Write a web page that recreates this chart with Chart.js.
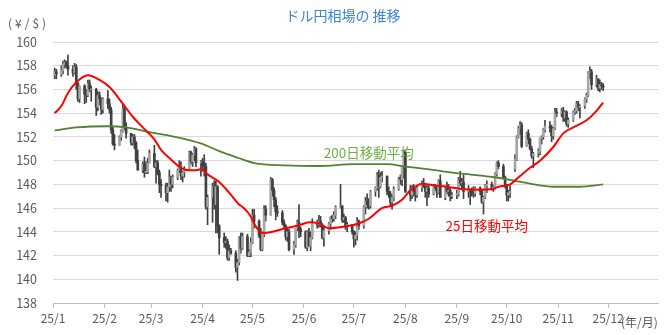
<!DOCTYPE html>
<html lang="ja">
<head>
<meta charset="utf-8">
<title>ドル円相場の推移</title>
<script src="https://cdn.jsdelivr.net/npm/chart.js@4.4.1/dist/chart.umd.min.js"></script>
<style>
  html, body { margin: 0; padding: 0; background: #fff; }
  #wrap { width: 670px; height: 335px; }
</style>
</head>
<body>
<div id="wrap"><canvas id="fxChart" width="670" height="335"></canvas></div>
<script>
/* ================= DATA (USD/JPY daily, 2025) ================= */

const titleText = "ドル円相場の 推移";
const monthLabels = ["25/1","25/2","25/3","25/4","25/5","25/6","25/7","25/8","25/9","25/10","25/11","25/12"];
const yTicks = [138,140,142,144,146,148,150,152,154,156,158,160];

const dates = [
  "1/2","1/3","1/6","1/7","1/8","1/9","1/10","1/13","1/14","1/15","1/16","1/17","1/20","1/21","1/22","1/23","1/24","1/27","1/28","1/29","1/30","1/31",
  "2/3","2/4","2/5","2/6","2/7","2/10","2/11","2/12","2/13","2/14","2/17","2/18","2/19","2/20","2/21","2/24","2/25","2/26","2/27","2/28",
  "3/3","3/4","3/5","3/6","3/7","3/10","3/11","3/12","3/13","3/14","3/17","3/18","3/19","3/20","3/21","3/24","3/25","3/26","3/27","3/28","3/31",
  "4/1","4/2","4/3","4/4","4/7","4/8","4/9","4/10","4/11","4/14","4/15","4/16","4/17","4/18","4/21","4/22","4/23","4/24","4/25","4/28","4/29","4/30",
  "5/1","5/2","5/5","5/6","5/7","5/8","5/9","5/12","5/13","5/14","5/15","5/16","5/19","5/20","5/21","5/22","5/23","5/26","5/27","5/28","5/29","5/30",
  "6/2","6/3","6/4","6/5","6/6","6/9","6/10","6/11","6/12","6/13","6/16","6/17","6/18","6/19","6/20","6/23","6/24","6/25","6/26","6/27","6/30",
  "7/1","7/2","7/3","7/4","7/7","7/8","7/9","7/10","7/11","7/14","7/15","7/16","7/17","7/18","7/21","7/22","7/23","7/24","7/25","7/28","7/29","7/30","7/31",
  "8/1","8/4","8/5","8/6","8/7","8/8","8/11","8/12","8/13","8/14","8/15","8/18","8/19","8/20","8/21","8/22","8/25","8/26","8/27","8/28","8/29",
  "9/1","9/2","9/3","9/4","9/5","9/8","9/9","9/10","9/11","9/12","9/15","9/16","9/17","9/18","9/19","9/22","9/23","9/24","9/25","9/26","9/29","9/30",
  "10/1","10/2","10/3","10/6","10/7","10/8","10/9","10/10","10/13","10/14","10/15","10/16","10/17","10/20","10/21","10/22","10/23","10/24","10/27","10/28","10/29","10/30","10/31",
  "11/3","11/4","11/5","11/6","11/7","11/10","11/11","11/12","11/13","11/14","11/17","11/18","11/19","11/20","11/21","11/24","11/25","11/26","11/27","11/28"
];

const opens = [
  157.2,157.5,157.3,157.6,158.1,158.3,158.0,157.7,157.4,157.9,156.5,155.2,156.3,155.6,155.5,156.5,156.0,156.0,154.5,155.5,155.2,154.3,
  155.2,154.8,154.3,152.6,151.4,151.3,152.0,152.5,154.4,152.8,152.3,151.5,152.0,151.5,150.0,149.2,149.7,149.0,149.1,149.8,
  150.6,149.5,149.8,149.0,148.0,147.9,147.3,147.8,148.6,148.0,148.6,149.2,149.3,148.7,149.0,149.3,150.7,149.9,150.5,151.0,149.8,
  149.9,149.6,149.5,146.1,146.9,147.8,146.3,147.8,144.5,143.5,143.1,143.2,141.8,142.4,142.2,141.0,141.4,143.5,142.6,143.6,142.0,142.3,
  143.1,145.4,144.9,143.7,142.5,143.8,145.9,145.4,148.4,147.5,146.7,145.7,145.6,144.8,144.5,143.6,144.0,142.5,142.9,144.3,144.8,144.2,
  144.0,142.7,144.0,142.8,143.5,144.8,144.6,144.9,144.6,143.5,144.1,144.7,145.3,145.1,145.4,146.1,146.2,145.0,145.2,144.4,144.6,
  144.0,143.4,143.7,144.9,144.5,146.1,146.6,146.3,146.2,147.4,147.7,148.8,147.8,148.6,148.7,147.4,147.2,146.5,146.9,147.6,148.5,148.4,149.5,
  150.7,147.4,147.1,147.7,147.4,147.1,147.7,148.1,147.8,147.4,147.7,147.2,147.8,147.7,147.3,148.3,146.9,147.7,147.4,147.5,147.0,
  147.1,147.2,148.4,148.1,148.2,147.4,147.5,147.4,147.3,147.2,147.7,147.4,146.5,146.9,147.9,148.0,147.7,147.8,148.9,149.8,149.5,148.6,
  147.9,147.1,147.3,149.3,150.1,152.0,152.7,153.0,151.2,152.3,151.8,151.0,150.4,150.6,150.8,151.9,152.0,152.6,152.9,152.8,152.1,152.7,154.1,
  154.0,154.2,153.6,154.1,153.1,153.4,154.1,154.2,154.8,154.5,154.6,155.2,155.5,157.4,157.5,156.4,156.9,156.1,156.4,156.3
];

const highs = [
  157.8,157.7,158.0,158.4,158.5,158.4,158.9,158.0,158.2,158.1,156.6,156.3,156.4,156.0,156.8,156.8,156.3,156.1,155.8,155.8,155.3,155.3,
  155.9,155.2,154.5,152.8,152.2,152.1,152.6,154.8,154.5,153.2,152.3,152.2,152.2,151.6,150.9,149.9,150.3,149.9,150.2,150.9,
  151.3,150.0,150.0,149.2,148.4,148.1,148.1,149.2,148.7,148.8,149.3,150.0,149.9,149.1,149.5,150.8,150.8,150.6,151.2,151.1,150.0,
  150.2,150.5,149.8,147.1,148.1,148.3,148.3,147.9,144.6,143.9,143.6,143.4,142.9,142.6,142.4,141.7,143.6,143.9,143.9,143.8,142.5,143.5,
  145.9,145.9,145.0,144.3,144.0,146.2,146.2,148.6,148.5,147.7,146.9,146.2,145.8,145.0,144.6,144.4,144.2,143.2,144.3,145.0,146.3,144.4,
  144.1,144.1,144.3,144.0,145.1,145.0,145.4,145.3,144.7,144.5,144.8,145.3,145.4,145.7,146.2,148.0,146.2,145.5,145.3,144.8,144.6,
  144.1,144.0,145.2,145.0,146.2,146.9,147.2,146.8,147.5,147.8,149.0,149.2,149.0,149.1,148.7,147.8,147.4,147.1,147.8,148.6,148.8,149.5,150.9,
  150.9,147.9,147.9,148.0,147.7,147.9,148.3,148.5,147.9,147.9,147.9,148.0,148.0,147.9,148.4,148.8,147.8,148.2,148.0,147.7,147.3,
  147.5,148.6,149.1,148.5,148.8,147.9,147.6,147.7,147.8,147.8,147.8,147.5,147.0,148.0,148.3,148.2,147.9,149.0,149.9,150.0,149.7,148.7,
  148.0,147.5,147.9,150.5,152.1,152.9,153.3,153.2,152.4,152.6,151.9,151.2,150.7,151.0,151.9,152.1,152.7,153.4,153.3,153.0,152.8,154.4,154.4,
  154.4,154.5,154.2,154.2,153.6,154.2,154.4,155.0,155.0,154.7,155.3,155.7,157.5,157.9,157.7,157.2,156.9,156.8,156.6,156.5
];

const lows = [
  156.9,156.9,157.1,157.3,157.8,157.8,157.2,157.1,157.3,156.0,155.0,154.9,154.8,154.9,155.4,155.8,155.0,153.8,154.2,154.7,153.9,154.0,
  154.4,154.0,152.3,151.3,150.9,151.3,151.7,152.4,152.6,151.9,151.3,151.3,151.0,149.8,149.2,149.0,148.6,148.9,148.9,149.8,
  149.4,148.1,148.8,147.3,146.9,146.6,146.5,147.4,147.4,147.7,148.4,149.0,148.4,148.2,148.6,149.2,149.7,149.5,150.0,149.5,148.7,
  149.1,148.7,145.9,144.6,144.8,145.9,143.9,143.9,142.1,142.7,142.6,141.6,141.6,142.1,140.6,139.9,141.2,142.2,142.5,141.9,141.9,141.9,
  143.0,144.3,143.5,142.4,142.4,143.6,144.9,145.4,147.0,146.1,145.0,145.3,144.6,144.3,143.3,143.2,142.4,142.1,142.7,144.1,143.5,143.6,
  142.6,142.4,142.8,142.4,143.4,144.3,144.4,144.4,143.4,142.8,143.8,144.2,144.8,144.9,145.1,146.0,144.8,144.8,144.2,144.0,143.8,
  142.7,142.9,143.3,144.2,144.3,145.5,146.0,145.9,146.0,147.0,147.5,146.9,147.7,148.2,147.1,146.9,146.2,145.9,146.6,147.5,148.0,147.9,148.5,
  147.3,146.6,146.8,147.0,146.6,146.9,147.4,147.7,146.9,146.2,146.9,147.1,147.5,146.9,147.2,146.9,146.7,147.2,147.0,146.6,146.8,
  146.8,147.0,147.9,147.6,146.8,146.9,146.3,147.0,146.9,147.0,147.1,146.4,145.5,146.8,147.3,147.5,147.4,147.6,148.7,149.3,148.5,147.7,
  146.6,146.6,146.9,149.1,150.0,151.9,152.2,151.1,151.2,151.4,150.9,150.2,149.4,150.3,150.5,151.4,151.8,152.4,152.4,151.6,151.8,152.6,153.7,
  153.7,153.3,153.3,152.9,152.8,153.3,153.9,154.0,154.2,153.6,154.4,154.9,155.4,156.9,156.0,156.2,155.9,155.8,156.0,155.9
];

const closes = [
  157.5,157.3,157.6,158.1,158.3,158.0,157.7,157.4,157.9,156.5,155.2,156.3,155.6,155.5,156.5,156.0,156.0,154.5,155.5,155.2,154.3,155.2,
  154.8,154.3,152.6,151.4,151.3,152.0,152.5,154.4,152.8,152.3,151.5,152.0,151.5,150.0,149.2,149.7,149.0,149.1,149.8,150.6,
  149.5,149.8,149.0,148.0,147.9,147.3,147.8,148.6,148.0,148.6,149.2,149.3,148.7,149.0,149.3,150.7,149.9,150.5,151.0,149.8,149.9,
  149.6,149.5,146.1,146.9,147.8,146.3,147.8,144.5,143.5,143.1,143.2,141.8,142.4,142.2,141.0,141.4,143.5,142.6,143.6,142.0,142.3,143.1,
  145.4,144.9,143.7,142.5,143.8,145.9,145.4,148.4,147.5,146.7,145.7,145.6,144.8,144.5,143.6,144.0,142.5,142.9,144.3,144.8,144.2,144.0,
  142.7,144.0,142.8,143.5,144.8,144.6,144.9,144.6,143.5,144.1,144.7,145.3,145.1,145.4,146.1,146.2,145.0,145.2,144.4,144.6,144.0,
  143.4,143.7,144.9,144.5,146.1,146.6,146.3,146.2,147.4,147.7,148.8,147.8,148.6,148.7,147.4,147.2,146.5,146.9,147.6,148.5,148.4,149.5,150.7,
  147.4,147.1,147.7,147.4,147.1,147.7,148.1,147.8,147.4,147.7,147.2,147.8,147.7,147.3,148.3,146.9,147.7,147.4,147.5,147.0,147.1,
  147.2,148.4,148.1,148.2,147.4,147.5,147.4,147.3,147.2,147.7,147.4,146.5,146.9,147.9,148.0,147.7,147.8,148.9,149.8,149.5,148.6,147.9,
  147.1,147.3,147.4,150.1,152.0,152.7,153.0,151.2,152.3,151.8,151.0,150.4,150.6,150.8,151.9,152.0,152.6,152.9,152.8,152.1,152.7,154.1,154.0,
  154.2,153.6,154.1,153.1,153.4,154.1,154.2,154.8,154.5,154.6,155.2,155.5,157.4,157.5,156.4,156.9,156.1,156.4,156.3,156.2
];

// 25日移動平均
const ma25Dates = ["1/2","1/6","1/10","1/15","1/22","1/29","2/4","2/12","2/18","2/24","3/3","3/7","3/13","3/19","3/24","3/28","4/1","4/3","4/11","4/17","4/23","4/25","4/30","5/2","5/6","5/8","5/13","5/21","5/29","6/4","6/10","6/16","6/23","6/30","7/4","7/10","7/18","7/24","7/30","8/4","8/7","8/11","8/19","8/26","9/4","9/15","9/22","9/26","10/3","10/9","10/15","10/21","10/29","11/4","11/10","11/18","11/24","11/28"];
const ma25Values = [154.0,154.6,155.7,156.6,157.2,156.8,156.2,154.8,153.7,152.8,151.8,150.9,150.1,149.4,149.2,149.2,149.3,148.95,148.2,147.3,146.3,146.1,145.3,144.7,143.95,143.9,144.0,144.3,144.55,144.8,144.7,144.3,144.4,144.55,144.7,145.1,146.0,146.2,146.7,147.5,147.8,148.05,147.9,147.8,147.6,147.55,147.6,147.8,148.0,148.7,149.4,150.0,151.15,152.3,152.8,153.4,154.2,154.9];

// 200日移動平均
const ma200Dates = ["1/2","1/15","2/3","2/14","2/28","3/14","3/31","4/11","4/17","4/23","5/2","5/21","6/10","7/1","7/21","8/1","8/13","8/21","9/4","9/24","10/6","10/15","10/29","11/14","11/28"];
const ma200Values = [152.55,152.8,152.9,152.8,152.4,152.05,151.45,150.8,150.5,150.2,149.8,149.6,149.55,149.7,149.7,149.5,149.3,149.15,148.9,148.6,148.3,148.06,147.8,147.8,148.0];

/* ================= HELPERS ================= */

function dayOfYear(md) {
  const [m, d] = md.split("/").map(Number);
  return (Date.UTC(2025, m - 1, d) - Date.UTC(2025, 0, 1)) / 86400000;
}

const monthStarts = monthLabels.map((_, i) => dayOfYear((i + 1) + "/1"));

const wickData = dates.map((d, i) => ({ x: dayOfYear(d), y: [lows[i], highs[i]] }));
const bodyData = dates.map((d, i) => {
  let lo = Math.min(opens[i], closes[i]);
  let hi = Math.max(opens[i], closes[i]);
  if (hi - lo < 0.06) { lo -= 0.03; hi += 0.03; }
  return { x: dayOfYear(d), y: [lo, hi] };
});
const bodyColors = dates.map((d, i) => closes[i] >= opens[i] ? "#a6a6a6" : "#3f3f3f");

const ma25Data = ma25Dates.map((d, i) => ({ x: dayOfYear(d), y: ma25Values[i] }));
const ma200Data = ma200Dates.map((d, i) => ({ x: dayOfYear(d), y: ma200Values[i] }));

const JP = '"Noto Sans CJK JP", "Noto Sans", sans-serif';

/* ================= TEXT OVERLAY ================= */

const textPlugin = {
  id: "texts",
  afterDraw(chart) {
    const { ctx } = chart;
    const x = chart.scales.x, y = chart.scales.y;
    ctx.save();
    ctx.textBaseline = "middle";

    ctx.textAlign = "center";
    ctx.fillStyle = "#3b86d4";
    ctx.font = "14px " + JP;
    ctx.fillText(titleText, 343, 16);

    ctx.fillStyle = "#595959";
    ctx.font = "12px " + JP;
    ctx.textAlign = "left";
    ctx.letterSpacing = "3px";
    ctx.fillText("(¥/$)", 8, 23);
    ctx.letterSpacing = "0px";
    ctx.fillText("(年/月)", 621, 322);

    ctx.textAlign = "center";
    ctx.font = "13.5px " + JP;
    ctx.fillStyle = "#70ad47";
    ctx.fillText("200日移動平均", x.getPixelForValue(dayOfYear("7/10")), y.getPixelForValue(150.66));
    ctx.fillStyle = "#ff0000";
    ctx.fillText("25日移動平均", x.getPixelForValue(dayOfYear("9/19")), y.getPixelForValue(144.47));
    ctx.restore();
  }
};

/* ================= CHART ================= */

new Chart(document.getElementById("fxChart"), {
  type: "bar",
  data: {
    datasets: [
      {
        type: "line",
        label: "25日移動平均",
        data: ma25Data,
        borderColor: "#ff0000",
        borderWidth: 2,
        pointRadius: 0,
        cubicInterpolationMode: "monotone",
        order: 0
      },
      {
        type: "line",
        label: "200日移動平均",
        data: ma200Data,
        borderColor: "#548235",
        borderWidth: 1.8,
        pointRadius: 0,
        cubicInterpolationMode: "monotone",
        order: 1
      },
      {
        label: "実体",
        data: bodyData,
        backgroundColor: bodyColors,
        barThickness: 2,
        grouped: false,
        order: 2
      },
      {
        label: "ヒゲ",
        data: wickData,
        backgroundColor: "#404040",
        barThickness: 1,
        grouped: false,
        order: 3
      }
    ]
  },
  options: {
    responsive: false,
    devicePixelRatio: 1,
    animation: false,
    layout: { padding: { top: 42, right: 12, left: 0, bottom: 0 } },
    plugins: {
      legend: { display: false },
      title: { display: false },
      tooltip: { enabled: false }
    },
    scales: {
      x: {
        type: "linear",
        min: 0,
        max: 364,
        offset: false,
        afterBuildTicks: s => { s.ticks = monthStarts.map(v => ({ value: v })); },
        afterFit: s => { s.height = 32; },
        ticks: {
          autoSkip: false,
          maxRotation: 0,
          padding: 3,
          color: "#595959",
          font: { family: JP, size: 12 },
          callback: (v, i) => monthLabels[i]
        },
        grid: { offset: false, drawOnChartArea: false, drawTicks: true, tickLength: 5, color: "#bfbfbf" },
        border: { color: "#bfbfbf" }
      },
      y: {
        min: 138,
        max: 160,
        afterBuildTicks: s => { s.ticks = yTicks.map(v => ({ value: v })); },
        afterFit: s => { s.width = 53; },
        ticks: {
          padding: 16,
          color: "#595959",
          font: { family: JP, size: 12.5 }
        },
        grid: { color: "#d9d9d9", drawTicks: false },
        border: { display: false }
      }
    }
  },
  plugins: [textPlugin]
});
</script>
</body>
</html>
